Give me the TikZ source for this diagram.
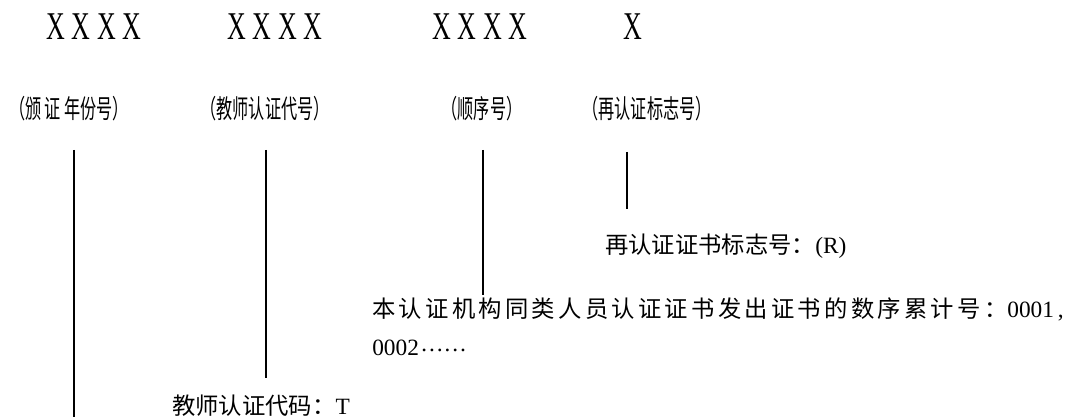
\documentclass[tikz,border=0pt]{standalone}
\usepackage{fontspec}
\setmainfont{Liberation Serif}
\newfontfamily\codefont[FakeStretch=0.66,LetterSpace=17]{Liberation Serif}
\newfontfamily\cjknarrow[FakeStretch=0.62]{Noto Sans CJK SC}
\newfontfamily\cjk{Noto Sans CJK SC}
\newfontfamily\cjkwide[LetterSpace=14]{Noto Sans CJK SC}
\begin{document}
\begin{tikzpicture}[x=.75pt,y=-.75pt,
		code/.style={anchor=base,inner sep=0,font=\codefont\fontsize{29.5pt}{30pt}\selectfont},
		part/.style={anchor=base,inner sep=0,font=\cjknarrow\fontsize{19.5pt}{20pt}\selectfont},
		note/.style={anchor=base west,inner sep=0},
		lead/.style={black,line width=1.4pt}]
	\useasboundingbox (0,0) rectangle (1073,417);
	\node[code] (year) at (94,40) {XXXX};
	\node[code] (teach) at (275,40) {XXXX};
	\node[code] (seq) at (480,40) {XXXX};
	\node[code] (again) at (633,40) {X};
	\node[part] (yearlab) at (69,119) {（颁\kern2.5pt 证\kern2.5pt 年份号）};
	\node[part] (teachlab) at (265,119) {（教师认证代号）};
	\node[part] (seqlab) at (482,119) {（顺序号）};
	\node[part] (againlab) at (647,119) {（再认证标志号）};
	\node[note,font=\cjk\fontsize{17.5pt}{20pt}\selectfont] (againnote) at (605,253)
		{再认证证书标志号：{\rmfamily(R)}};
	\node[note,font=\cjkwide\fontsize{17.5pt}{20pt}\selectfont] (seqnote) at (372,317)
		{本认证机构同类人员认证证书发出证书的数序累计号：{\rmfamily 0001\,,}};
	\node[note,font=\cjkwide\fontsize{17.5pt}{20pt}\selectfont] (seqnotetwo) at (372,355)
		{{\rmfamily 0002\raisebox{2.5pt}{\kern1pt……}}};
	\node[note,font=\cjk\fontsize{17.5pt}{20pt}\selectfont] (teachnote) at (172,414)
		{教师认证代码：{\rmfamily T}};
	\coordinate (yeartop) at (74,150);
	\coordinate (yearend) at (74,417);
	\coordinate (teachtop) at (266,150);
	\coordinate (teachend) at (266,378);
	\coordinate (seqtop) at (483,150);
	\coordinate (seqend) at (483,295);
	\coordinate (againtop) at (627,152);
	\coordinate (againend) at (627,209);
	\draw[lead] (yeartop) -- (yearend);
	\draw[lead] (teachtop) -- (teachend);
	\draw[lead] (seqtop) -- (seqend);
	\draw[lead] (againtop) -- (againend);
\end{tikzpicture}
\end{document}
